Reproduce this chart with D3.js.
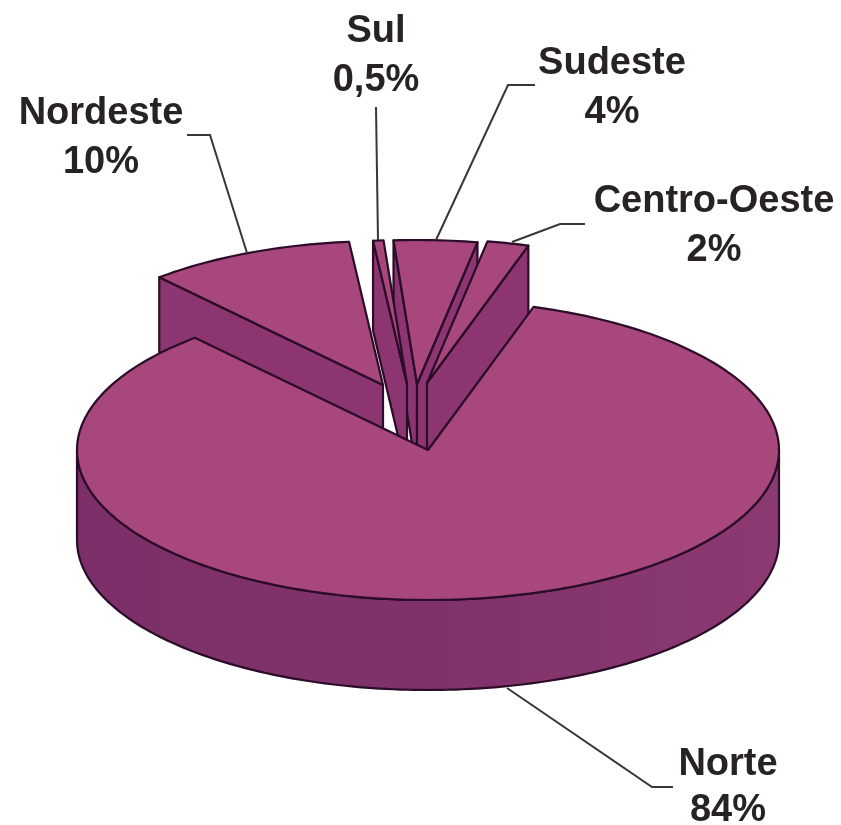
<!DOCTYPE html>
<html>
<head>
<meta charset="utf-8">
<script src="https://cdn.jsdelivr.net/npm/d3@7"></script>
<style>
	html, body { margin: 0; padding: 0; background: #fff; }
	text { font-family: "Liberation Sans", Arial, sans-serif; font-weight: bold; fill: #262226; }
</style>
</head>
<body>
<div id="chart-area"></div>
<script>
// Data
const regions = ["Norte", "Nordeste", "Sul", "Sudeste", "Centro-Oeste"];
const shares = [84, 10, 0.5, 4, 2];
const shareLabels = ["84%", "10%", "0,5%", "4%", "2%"];

let width = 841, height = 825;
let depth = 90;

let svg = d3.select("#chart-area")
	.append("svg")
	.attr("width", width)
	.attr("height", height)
	.style("display", "block");

let defs = svg.append("defs");

let wallGrad = defs.append("linearGradient")
	.attr("id", "wall")
	.attr("x1", "0").attr("x2", "1").attr("y1", "0").attr("y2", "0");
wallGrad.append("stop").attr("offset", "0").attr("stop-color", "#7c2f68");
wallGrad.append("stop").attr("offset", "0.5").attr("stop-color", "#7f3169");
wallGrad.append("stop").attr("offset", "1").attr("stop-color", "#8c3a72");

let blur = defs.append("filter").attr("id", "soft");
blur.append("feGaussianBlur").attr("stdDeviation", 0.45);

// Scales: unit circle to the tilted ellipse
let x = d3.scaleLinear().domain([-1, 1]).range([77, 779]);
let y = d3.scaleLinear().domain([-1, 1]).range([600, 300]);

let pie = d3.pie()
	.sort(null)
	.startAngle(17.5 * Math.PI / 180)
	.endAngle(377.5 * Math.PI / 180);
let slices = pie(shares);

// How far each slice is pulled out of the pie, in pixels, and how much it shrinks
let pulled = [[0, 0], [-45, -65], [-21, -66], [-11, -66], [-1, -67]];
let radial = [1, 0.96, 0.96, 0.96, 0.96];

// Back to front
let drawOrder = [3, 4, 2, 1, 0];

let line = d3.line();

function rim(angle, i, drop) {
	return [
		x(radial[i] * Math.sin(angle)) + pulled[i][0],
		y(radial[i] * Math.cos(angle)) + pulled[i][1] + drop
	];
}

function apex(i, drop) {
	return [x(0) + pulled[i][0], y(0) + pulled[i][1] + drop];
}

function arcPoints(a0, a1, i, drop) {
	let n = Math.max(2, Math.ceil((a1 - a0) / 0.02));
	return d3.range(n + 1).map((k) => rim(a0 + (a1 - a0) * k / n, i, drop));
}

let g = svg.append("g").attr("filter", "url(#soft)");

const outline = (sel) => sel
	.attr("stroke", "#2a0a28")
	.attr("stroke-width", 2.2)
	.attr("stroke-linejoin", "round");

drawOrder.forEach((i) => {
	let s = slices[i];
	let slice = g.append("g").attr("class", "slice");

	// Cut faces, only those turned towards the viewer
	[s.startAngle, s.endAngle].forEach((a, side) => {
		let facing = side == 0 ? Math.sin(a) < 0 : Math.sin(a) > 0;
		if (i == 0 || !facing) return;
		slice.append("path")
			.attr("d", line([apex(i, 0), rim(a, i, 0), rim(a, i, depth), apex(i, depth)]) + "Z")
			.attr("fill", "#8c3670")
			.call(outline);
	});

	// Outer wall, only the part facing the viewer
	let a0 = Math.max(s.startAngle, Math.PI / 2);
	let a1 = Math.min(s.endAngle, 3 * Math.PI / 2);
	if (a1 > a0) {
		let top = arcPoints(a0, a1, i, 0);
		let bottom = arcPoints(a0, a1, i, depth).reverse();
		slice.append("path")
			.attr("d", line(top.concat(bottom)) + "Z")
			.attr("fill", "url(#wall)")
			.call(outline);
	}

	// Top face
	slice.append("path")
		.attr("d", line([apex(i, 0)].concat(arcPoints(s.startAngle, s.endAngle, i, 0))) + "Z")
		.attr("fill", "#a8467b")
		.call(outline);
});

// Labels and leader lines
let labelX = [728, 101, 376, 612, 714];
let labelY = [775, 124, 42, 74, 212];
let lineGap = [46, 49, 49, 49, 49];
let leaders = [
	[[507, 688], [652, 787], [673, 787]],
	[[187, 135], [210, 135], [247, 253]],
	[[376, 107], [378, 240]],
	[[535, 85], [508, 85], [436, 240]],
	[[585, 224], [560, 224], [512, 242]]
];

let labels = svg.append("g").attr("filter", "url(#soft)");

regions.forEach((name, i) => {
	labels.append("path")
		.attr("d", line(leaders[i]))
		.attr("fill", "none")
		.attr("stroke", "#3a363a")
		.attr("stroke-width", 2);

	labels.append("text")
		.attr("x", labelX[i])
		.attr("y", labelY[i])
		.attr("text-anchor", "middle")
		.attr("font-size", "38px")
		.text(name);

	labels.append("text")
		.attr("x", labelX[i])
		.attr("y", labelY[i] + lineGap[i])
		.attr("text-anchor", "middle")
		.attr("font-size", "38px")
		.text(shareLabels[i]);
});
</script>
</body>
</html>
